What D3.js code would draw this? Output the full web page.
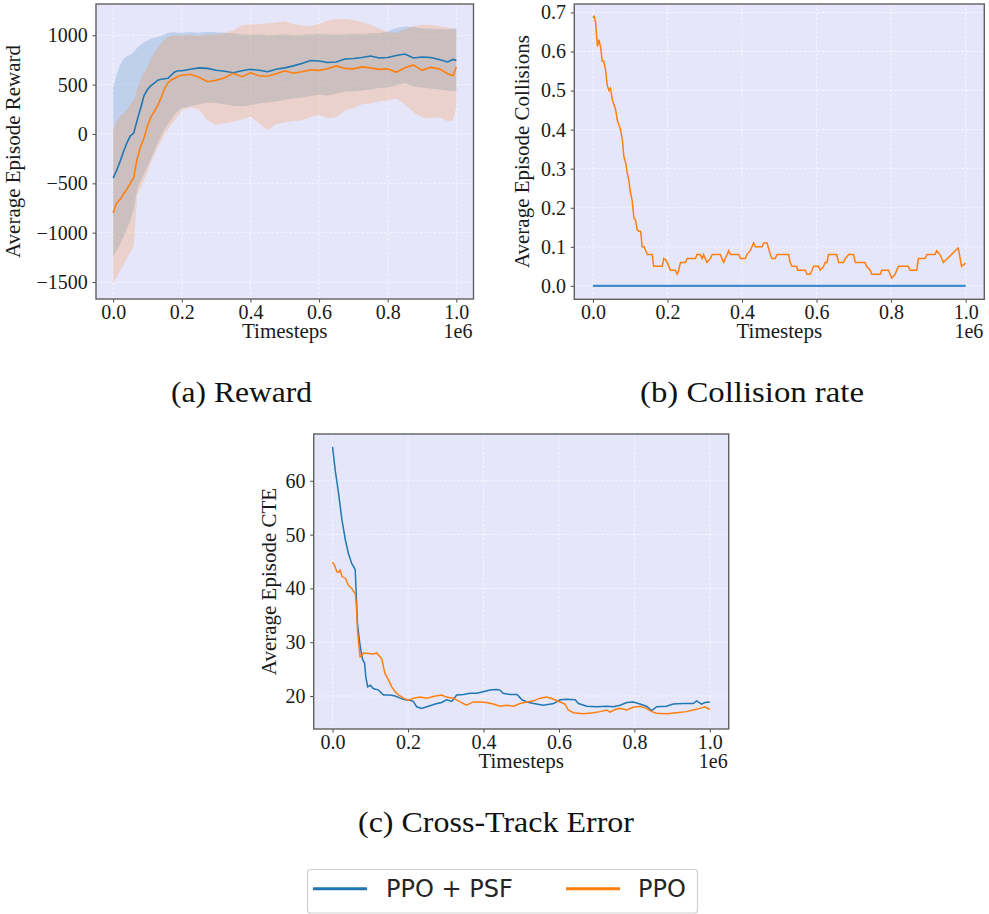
<!DOCTYPE html>
<html><head><meta charset="utf-8">
<script src="https://cdn.jsdelivr.net/npm/d3@7"></script>
<style>html,body{margin:0;padding:0;background:#fff;} svg{display:block;}</style>
</head><body>
<svg id="chart" width="989" height="914"></svg>
<script>
// ---------- DATA (timesteps in units of 1e6) ----------
const seriesNames = ["PPO + PSF", "PPO"];
const xTicks = [0, 0.2, 0.4, 0.6, 0.8, 1.0];
const rewardTicks = [-1500, -1000, -500, 0, 500, 1000];
const collisionTicks = [0, 0.1, 0.2, 0.3, 0.4, 0.5, 0.6, 0.7];
const cteTicks = [20, 30, 40, 50, 60];

const rewardSteps = [0,0.01,0.02,0.03,0.04,0.05,0.06,0.07,0.08,0.09,0.10,0.11,0.12,0.13,0.14,0.15,0.16,0.17,0.18,0.19,0.20,
  0.225,0.25,0.275,0.30,0.325,0.35,0.375,0.40,0.425,0.45,0.475,0.50,0.525,0.55,0.575,0.60,0.625,0.65,0.675,0.70,0.725,0.75,0.775,0.80,0.825,0.85,0.875,0.90,0.925,0.95,0.975,
  0.99,1.0];
const rewardPsfMean = [-446,-370,-280,-180,-90,-20,10,140,260,390,450,490,515,545,555,560,565,600,630,640,640,
  655,670,665,645,635,620,640,655,645,630,655,670,690,715,745,740,725,730,760,765,775,790,770,775,795,810,770,780,775,755,730,
  755,746];
const rewardPsfHigh = [466,600,700,760,790,800,830,870,905,930,945,965,975,985,995,1010,1025,1030,1030,1025,1025,
  1030,1025,1035,1030,1025,1020,1010,1005,1010,1000,1005,1010,1000,1005,1010,1015,1010,1005,1010,1015,1010,1020,1020,1040,1075,1090,1085,1070,1065,1060,1060,
  1065,1074];
const rewardPsfLow = [-1240,-1180,-1120,-1040,-960,-880,-760,-560,-470,-400,-330,-250,-170,-90,-20,50,100,150,200,240,260,
  280,300,320,314,300,285,280,290,310,320,330,348,360,370,385,398,390,410,430,432,440,450,466,470,490,517,480,470,460,450,440,
  435,432];
const rewardPpoMean = [-801,-700,-665,-610,-560,-500,-440,-250,-130,-40,80,170,230,290,370,460,520,550,565,585,595,
  605,575,530,545,570,615,580,620,590,585,610,640,615,630,650,645,660,690,665,660,680,670,655,660,625,670,700,645,675,660,610,
  590,679];
const rewardPpoHigh = [44,120,180,213,250,300,348,450,551,620,686,760,821,870,922,960,985,995,1000,1000,1000,
  1005,995,1005,1010,1020,1050,1100,1110,1115,1120,1130,1142,1115,1100,1091,1115,1150,1165,1165,1155,1135,1108,1070,1030,1025,1060,1095,1108,1108,1092,1080,
  1070,1064];
const rewardPpoLow = [-1510,-1450,-1390,-1330,-1260,-1200,-1130,-620,-540,-470,-380,-290,-210,-140,-70,0,50,95,140,190,240,
  270,250,140,90,110,125,150,175,110,40,100,120,130,140,170,196,160,170,240,260,300,310,330,340,360,300,220,170,160,170,130,
  140,270];

const collisionPsfSteps = [0, 1.0];
const collisionPsf = [0, 0];
const collisionPpoSteps = [0,0.003,0.007,0.012,0.016,0.021,0.025,0.029,0.034,0.038,0.043,0.047,0.052,0.061,0.065,0.074,0.079,0.083,0.088,0.092,0.096,
  0.101,0.105,0.110,0.114,0.119,0.123,0.128,0.132,0.137,0.146,0.159,0.163,0.186,0.190,0.195,0.199,0.208,0.221,0.226,0.230,0.235,0.248,0.253,0.275,0.279,
  0.288,0.293,0.297,0.306,0.315,0.320,0.342,0.346,0.351,0.355,0.360,0.364,0.369,0.391,0.396,0.409,0.413,0.422,0.431,0.436,0.454,0.458,0.467,0.471,0.476,
  0.480,0.489,0.494,0.525,0.529,0.534,0.547,0.549,0.570,0.574,0.583,0.588,0.592,0.605,0.610,0.619,0.623,0.628,0.632,0.654,0.659,0.672,0.677,0.686,0.699,
  0.704,0.730,0.734,0.744,0.748,0.771,0.775,0.793,0.797,0.802,0.811,0.815,0.820,0.846,0.851,0.869,0.873,0.891,0.896,0.918,0.922,0.931,0.936,0.940,0.980,0.989,1.0];
const collisionPpo = [0.686,0.690,0.677,0.613,0.630,0.609,0.575,0.575,0.553,0.515,0.500,0.506,0.477,0.451,0.425,0.400,0.374,0.331,0.314,0.289,0.272,
  0.237,0.220,0.173,0.169,0.143,0.140,0.140,0.100,0.100,0.080,0.080,0.050,0.050,0.070,0.067,0.060,0.040,0.040,0.030,0.040,0.060,0.060,0.070,0.070,0.080,
  0.080,0.070,0.080,0.060,0.070,0.080,0.080,0.070,0.060,0.070,0.080,0.090,0.080,0.080,0.070,0.070,0.080,0.090,0.110,0.100,0.100,0.110,0.110,0.097,0.080,
  0.070,0.070,0.080,0.080,0.060,0.050,0.050,0.040,0.040,0.030,0.030,0.040,0.050,0.050,0.040,0.050,0.060,0.060,0.080,0.080,0.060,0.060,0.070,0.080,0.080,
  0.060,0.060,0.050,0.040,0.030,0.030,0.040,0.040,0.030,0.020,0.030,0.040,0.050,0.050,0.040,0.040,0.070,0.070,0.080,0.080,0.090,0.080,0.070,0.060,0.097,0.050,0.058];

const ctePsfSteps = [0,0.007,0.016,0.025,0.034,0.042,0.051,0.057,0.060,0.063,0.066,0.071,0.075,0.080,0.085,0.088,0.093,0.100,0.108,0.122,0.135,0.153,0.166,
  0.179,0.192,0.205,0.214,0.223,0.236,0.254,0.272,0.289,0.302,0.316,0.329,0.347,0.364,0.382,0.399,0.417,0.435,0.444,0.452,0.470,0.489,0.502,0.515,0.533,
  0.559,0.586,0.603,0.621,0.643,0.652,0.674,0.700,0.727,0.744,0.762,0.780,0.797,0.815,0.832,0.846,0.859,0.885,0.903,0.929,0.956,0.965,0.978,0.987,1.0];
const ctePsf = [66.3,62.0,57.6,52.7,49.0,46.5,44.6,43.9,43.5,38.5,33.5,30.4,28.5,26.7,26.1,23.6,21.7,22.0,21.4,21.1,20.2,20.2,20.0,
  19.6,19.3,19.2,19.0,18.0,17.7,18.1,18.5,18.8,19.3,19.0,20.2,20.3,20.5,20.5,20.8,21.1,21.2,21.1,20.5,20.3,20.3,19.3,18.9,18.6,
  18.3,18.6,19.3,19.4,19.3,18.6,18.1,18.0,18.1,18.0,18.3,18.8,18.9,18.5,18.1,17.3,18.0,18.1,18.5,18.6,18.6,19.1,18.5,18.8,18.9];
const ctePpoSteps = [0,0.007,0.011,0.016,0.020,0.025,0.034,0.042,0.051,0.056,0.060,0.063,0.066,0.069,0.073,0.078,0.082,0.095,0.108,0.117,0.126,0.131,
  0.135,0.139,0.148,0.157,0.166,0.175,0.188,0.201,0.214,0.232,0.250,0.267,0.289,0.302,0.320,0.338,0.355,0.373,0.391,0.408,0.426,0.444,0.461,0.480,0.497,
  0.515,0.533,0.550,0.568,0.586,0.603,0.616,0.625,0.638,0.665,0.691,0.709,0.727,0.735,0.749,0.762,0.780,0.797,0.815,0.832,0.846,0.859,0.885,0.912,0.938,
  0.956,0.974,0.987,1.0];
const ctePpo = [44.9,44.0,43.1,43.0,43.4,42.2,41.9,40.6,40.0,39.4,39.1,37.0,32.3,29.8,27.3,27.6,28.0,27.9,27.8,28.0,27.3,26.8,
  25.4,24.2,23.0,21.7,20.8,20.2,19.6,19.2,19.6,19.8,19.6,19.9,20.2,19.8,19.6,18.9,18.3,18.9,18.9,18.8,18.5,18.1,18.3,18.1,18.6,
  18.9,19.1,19.6,19.8,19.4,18.9,18.5,17.4,16.9,16.7,16.9,17.1,17.4,17.0,17.5,17.7,17.4,17.9,18.1,17.7,17.1,16.8,16.7,16.9,17.1,
  17.4,17.7,18.0,17.5];

// ---------- STYLE ----------
const C_PSF = "#1f77b4", C_PPO = "#ff7f0e";
const SERIF = "'Liberation Serif','Times New Roman',serif";
const svg = d3.select("#chart");
svg.append("rect").attr("width", 989).attr("height", 914).attr("fill", "#ffffff");

let clipId = 0;
function panel(cfg) {
  const g = svg.append("g");
  const x = d3.scaleLinear().domain([-0.05, 1.05]).range([cfg.left, cfg.right]);
  const y = d3.scaleLinear().domain(cfg.yDomain).range([cfg.bottom, cfg.top]);
  const w = cfg.right - cfg.left, h = cfg.bottom - cfg.top;
  g.append("rect").attr("x", cfg.left).attr("y", cfg.top).attr("width", w).attr("height", h).attr("fill", "#e6e6fa");
  const id = "clip" + (clipId++);
  svg.append("clipPath").attr("id", id).append("rect")
    .attr("x", cfg.left).attr("y", cfg.top).attr("width", w).attr("height", h);
  // grid
  g.selectAll(".gx").data(xTicks).join("line")
    .attr("x1", d => x(d)).attr("x2", d => x(d)).attr("y1", cfg.top).attr("y2", cfg.bottom)
    .attr("stroke", "#ffffff").attr("stroke-width", 0.8).attr("stroke-dasharray", "2.5,2").attr("opacity", 0.85);
  g.selectAll(".gy").data(cfg.yTicks).join("line")
    .attr("y1", d => y(d)).attr("y2", d => y(d)).attr("x1", cfg.left).attr("x2", cfg.right)
    .attr("stroke", "#ffffff").attr("stroke-width", 0.8).attr("stroke-dasharray", "2.5,2").attr("opacity", 0.85);
  const plot = g.append("g").attr("clip-path", `url(#${id})`);
  // axes
  const ax = g.append("g").attr("transform", `translate(0,${cfg.bottom})`)
    .call(d3.axisBottom(x).tickValues(xTicks).tickSize(3.5).tickPadding(2.3).tickFormat(d3.format(".1f")));
  const ay = g.append("g").attr("transform", `translate(${cfg.left},0)`)
    .call(d3.axisLeft(y).tickValues(cfg.yTicks).tickSize(3.5).tickPadding(4.8).tickFormat(cfg.fmt));
  [ax, ay].forEach(a => {
    a.select(".domain").remove();
    a.selectAll("line").attr("stroke", "#333").attr("stroke-width", 0.9);
    a.selectAll("text").attr("font-family", SERIF).attr("font-size", 20).attr("fill", "#1a1a1a");
  });
  // frame
  g.append("rect").attr("x", cfg.left).attr("y", cfg.top).attr("width", w).attr("height", h)
    .attr("fill", "none").attr("stroke", "#606060").attr("stroke-width", 1.4);
  // labels
  g.append("text").attr("x", (cfg.left + cfg.right) / 2).attr("y", cfg.bottom + 39)
    .attr("text-anchor", "middle").attr("font-family", SERIF).attr("font-size", 21).attr("fill", "#1a1a1a").text("Timesteps");
  g.append("text").attr("x", cfg.right - 1).attr("y", cfg.bottom + 39)
    .attr("text-anchor", "end").attr("font-family", SERIF).attr("font-size", 20).attr("fill", "#1a1a1a").text("1e6");
  g.append("text").attr("transform", `translate(${cfg.ylabelX},${(cfg.top + cfg.bottom) / 2}) rotate(-90)`)
    .attr("text-anchor", "middle").attr("font-family", SERIF).attr("font-size", 21).attr("fill", "#1a1a1a").text(cfg.ylabel);
  return { x, y, plot };
}

const minus = s => s.replace("-", "\u2212");

// ---------- (a) Reward ----------
{
  const p = panel({ left: 96, right: 473.5, top: 4, bottom: 299, yDomain: [-1672, 1317], yTicks: rewardTicks,
    fmt: d => minus(String(d)), ylabel: "Average Episode Reward", ylabelX: 20 });
  const band = (lo, hi) => d3.area().x((d, i) => p.x(rewardSteps[i])).y0((d, i) => p.y(lo[i])).y1((d, i) => p.y(hi[i]));
  const line = vals => d3.line().x((d, i) => p.x(rewardSteps[i])).y((d, i) => p.y(vals[i]));
  p.plot.append("path").attr("d", band(rewardPsfLow, rewardPsfHigh)(rewardSteps)).attr("fill", C_PSF).attr("fill-opacity", 0.2);
  p.plot.append("path").attr("d", band(rewardPpoLow, rewardPpoHigh)(rewardSteps)).attr("fill", C_PPO).attr("fill-opacity", 0.2);
  p.plot.append("path").attr("d", line(rewardPsfMean)(rewardSteps)).attr("fill", "none").attr("stroke", C_PSF).attr("stroke-width", 1.6);
  p.plot.append("path").attr("d", line(rewardPpoMean)(rewardSteps)).attr("fill", "none").attr("stroke", C_PPO).attr("stroke-width", 1.6);
}

// ---------- (b) Collision rate ----------
{
  const p = panel({ left: 574.3, right: 984.3, top: 4, bottom: 299.3, yDomain: [-0.0344, 0.7216], yTicks: collisionTicks,
    fmt: d3.format(".1f"), ylabel: "Average Episode Collisions", ylabelX: 529 });
  const line = (xs, vals) => d3.line().x((d, i) => p.x(xs[i])).y((d, i) => p.y(vals[i]))(xs);
  p.plot.append("path").attr("d", line(collisionPsfSteps, collisionPsf)).attr("fill", "none").attr("stroke", "#3f8bcb").attr("stroke-width", 2.2);
  p.plot.append("path").attr("d", line(collisionPpoSteps, collisionPpo)).attr("fill", "none").attr("stroke", C_PPO).attr("stroke-width", 1.5);
}

// ---------- (c) Cross-Track Error ----------
{
  const p = panel({ left: 313.7, right: 728.7, top: 434, bottom: 729, yDomain: [13.87, 68.7], yTicks: cteTicks,
    fmt: d3.format("d"), ylabel: "Average Episode CTE", ylabelX: 276 });
  const line = (xs, vals) => d3.line().x((d, i) => p.x(xs[i])).y((d, i) => p.y(vals[i]))(xs);
  p.plot.append("path").attr("d", line(ctePsfSteps, ctePsf)).attr("fill", "none").attr("stroke", C_PSF).attr("stroke-width", 1.5);
  p.plot.append("path").attr("d", line(ctePpoSteps, ctePpo)).attr("fill", "none").attr("stroke", C_PPO).attr("stroke-width", 1.5);
}

// ---------- captions ----------
const captions = [
  { text: "(a) Reward", x: 241.5, y: 402, len: 141 },
  { text: "(b) Collision rate", x: 752, y: 402, len: 224 },
  { text: "(c) Cross-Track Error", x: 496, y: 832, len: 276 }
];
svg.selectAll(".cap").data(captions).join("text")
  .attr("x", d => d.x).attr("y", d => d.y).attr("text-anchor", "middle")
  .attr("font-family", SERIF).attr("font-size", 29.5).attr("fill", "#111")
  .attr("textLength", d => d.len).attr("lengthAdjust", "spacingAndGlyphs")
  .text(d => d.text);

// ---------- legend ----------
const lg = svg.append("g");
lg.append("rect").attr("x", 307.5).attr("y", 869.5).attr("width", 390).attr("height", 43.5).attr("rx", 3)
  .attr("fill", "#ffffff").attr("stroke", "#cfcfcf").attr("stroke-width", 1.2);
const legendItems = [
  { name: seriesNames[0], color: C_PSF, x0: 313, tx: 386 },
  { name: seriesNames[1], color: C_PPO, x0: 566, tx: 638 }
];
legendItems.forEach(it => {
  lg.append("line").attr("x1", it.x0).attr("x2", it.x0 + 54).attr("y1", 888.7).attr("y2", 888.7)
    .attr("stroke", it.color).attr("stroke-width", 3);
  lg.append("text").attr("x", it.tx).attr("y", 897).attr("font-family", "'DejaVu Sans',sans-serif")
    .attr("font-size", 24).attr("fill", "#262626").text(it.name);
});
</script>
</body></html>
